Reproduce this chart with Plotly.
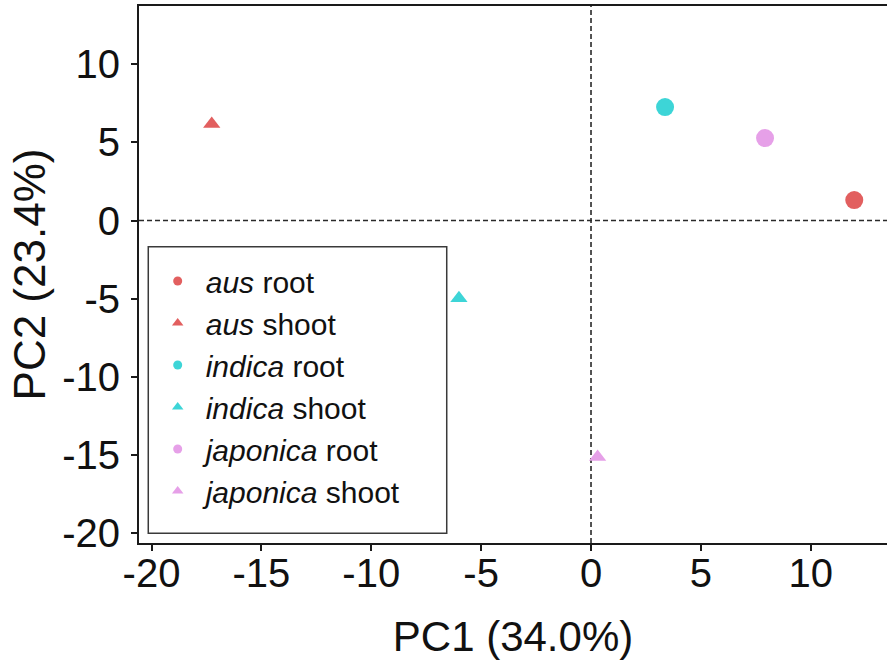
import plotly.graph_objects as go

# PCA scores per sample group
groups = ["aus root", "aus shoot", "indica root", "indica shoot", "japonica root", "japonica shoot"]
subspecies = ["aus", "aus", "indica", "indica", "japonica", "japonica"]
tissues = ["root", "shoot", "root", "shoot", "root", "shoot"]
pc1 = [11.98, -17.26, 3.37, -6.01, 7.92, 0.30]
pc2 = [1.31, 6.17, 7.25, -4.97, 5.27, -15.12]

x_ticks = [-20, -15, -10, -5, 0, 5, 10]
y_ticks = [-20, -15, -10, -5, 0, 5, 10]
x_title = "PC1 (34.0%)"
y_title = "PC2 (23.4%)"

palette = {"aus": "#E25F5F", "indica": "#3DD5D7", "japonica": "#E6A0E8"}
symbols = {"root": "circle", "shoot": "triangle-up"}
point_size = {"root": 18, "shoot": 15}
legend_size = {"root": 9, "shoot": 10}

FONT = "Liberation Sans, Arial, sans-serif"

fig = go.Figure()

# data points
for sp, ts, x, y in zip(subspecies, tissues, pc1, pc2):
    fig.add_trace(go.Scatter(
        x=[x], y=[y], mode="markers", showlegend=False, hoverinfo="skip",
        marker=dict(color=palette[sp], symbol=symbols[ts], size=point_size[ts], line=dict(width=0)),
    ))

# legend entries with small keys
for sp, ts in zip(subspecies, tissues):
    fig.add_trace(go.Scatter(
        x=[None], y=[None], mode="markers", name=f"<i>{sp}</i> {ts}",
        marker=dict(color=palette[sp], symbol=symbols[ts], size=legend_size[ts], line=dict(width=0)),
    ))

# reference lines through the origin
ref_line = dict(color="#2a2a2a", width=1.6, dash="5px,3px")
fig.add_hline(y=0, line=ref_line, layer="below")
fig.add_vline(x=0, line=ref_line, layer="below")

# legend frame
fig.add_shape(type="rect", xref="paper", yref="paper",
              x0=0.0124, x1=0.4114, y0=0.0181, y1=0.5518,
              line=dict(color="#3a3a3a", width=1.5), fillcolor="rgba(0,0,0,0)", layer="above")

axis_common = dict(
    showline=True, linecolor="#1a1a1a", linewidth=2,
    ticks="outside", ticklen=6, tickwidth=1.5, tickcolor="#1a1a1a",
    tickfont=dict(family=FONT, size=40, color="#111111"),
    showgrid=False, zeroline=False,
)

fig.update_layout(
    width=887, height=665,
    margin=dict(l=139, r=0, t=6, b=122, autoexpand=False),
    paper_bgcolor="white", plot_bgcolor="white",
    font=dict(family=FONT, color="#111111"),
    xaxis=dict(range=[-20.57, 13.47], tickvals=x_ticks, ticktext=[str(v) for v in x_ticks],
               mirror=True, ticklabelstandoff=-12,
               title=dict(text=x_title, font=dict(family=FONT, size=42, color="#111111"), standoff=28),
               **axis_common),
    yaxis=dict(range=[-20.61, 13.71], tickvals=y_ticks, ticktext=[str(v) for v in y_ticks],
               ticklabelstandoff=3,
               title=dict(text=y_title, font=dict(family=FONT, size=44, color="#111111"), standoff=3),
               **axis_common),
    legend=dict(x=0.0143, y=0.5363, xanchor="left", yanchor="top",
                bgcolor="rgba(0,0,0,0)", borderwidth=0, itemwidth=46,
                font=dict(family=FONT, size=30, color="#111111"),
                tracegroupgap=0),
)

fig.write_html("out.html")
